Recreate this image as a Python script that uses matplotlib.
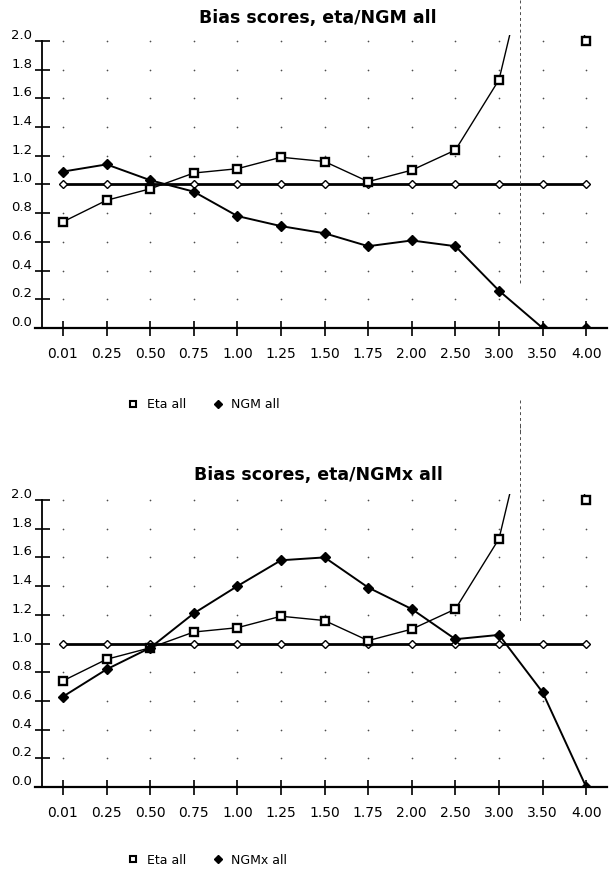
import numpy as np
import matplotlib
matplotlib.use("Agg")
import matplotlib.pyplot as plt
from matplotlib.lines import Line2D
from matplotlib.transforms import ScaledTranslation

# ---------------- data ----------------
categories = ["0.01", "0.25", "0.50", "0.75", "1.00", "1.25", "1.50",
              "1.75", "2.00", "2.50", "3.00", "3.50", "4.00"]
eta_all = [0.74, 0.89, 0.97, 1.08, 1.11, 1.19, 1.16, 1.02, 1.10, 1.24, 1.73, 3.00, 2.00]
ngm_all = [1.09, 1.14, 1.03, 0.95, 0.78, 0.71, 0.66, 0.57, 0.61, 0.57, 0.26, 0.00, 0.00]
ngmx_all = [0.63, 0.82, 0.97, 1.21, 1.40, 1.58, 1.60, 1.39, 1.24, 1.03, 1.06, 0.66, 0.00]
reference = [1.0, 1.0, 1.0, 1.0, 1.0, 1.0, 1.0, 1.0, 1.0, 1.0, 1.0, 1.0, 1.0]
yticks = [0.0, 0.2, 0.4, 0.6, 0.8, 1.0, 1.2, 1.4, 1.6, 1.8, 2.0]

titles = ["Bias scores, eta/NGM all", "Bias scores, eta/NGMx all"]
series_labels = [("Eta all", "NGM all"), ("Eta all", "NGMx all")]
second_series = [ngm_all, ngmx_all]

# ---------------- layout ----------------
W, H = 611, 872
DPI = 100
fig = plt.figure(figsize=(W / DPI, H / DPI), dpi=DPI)
plt.rcParams['font.family'] = ['DejaVu Sans']

x = np.arange(len(categories))
spacing = 43.6
x0_px = 63
left_px, right_px = 35, 607
xlim = ((left_px - x0_px) / spacing, (right_px - x0_px) / spacing)
yspine = (42 - x0_px) / spacing

panels = [  # (px of y=0, px of y=2.0, title y px, legend y px)
    (328, 41, 18, 405),
    (787, 500, 475, 860),
]
ytop = 2.04

for i, (y0px, y2px, ty, legy) in enumerate(panels):
    ppu = (y0px - y2px) / 2.0
    top_px = y2px - (ytop - 2.0) * ppu
    ax = fig.add_axes([left_px / W, (H - y0px) / H,
                       (right_px - left_px) / W, (y0px - top_px) / H])
    ax.set_xlim(*xlim)
    ax.set_ylim(0, ytop)

    for s in ("top", "right"):
        ax.spines[s].set_visible(False)
    ax.spines["left"].set_position(("data", yspine))
    ax.spines["left"].set_bounds(0, 2.0)
    ax.spines["left"].set_linewidth(1.3)
    ax.spines["bottom"].set_linewidth(1.6)

    # grid dots
    gx, gy = np.meshgrid(x, yticks[1:])
    ax.scatter(gx.ravel(), gy.ravel(), s=1.5, color="0.3", lw=0, zorder=1)

    # reference line
    ax.plot(x, reference, color="black", lw=2.0, marker="D", ms=4.2,
            mfc="white", mec="black", mew=1.0, zorder=3)
    # eta
    ax.plot(x, eta_all, color="black", lw=1.0, marker="s", ms=5.6,
            mfc="white", mec="black", mew=1.7, zorder=4)
    # second series
    ax.plot(x, second_series[i], color="black", lw=1.4, marker="D",
            ms=5.0, mfc="black", mec="black", zorder=5)

    ax.set_xticks(x)
    ax.set_xticklabels(categories, fontsize=10)
    ax.set_yticks(yticks)
    ax.set_yticklabels([f"{v:.1f}" for v in yticks], fontsize=9.5)
    ax.tick_params(axis="x", direction="inout", length=10.8, width=1.2, pad=8)
    ax.tick_params(axis="y", direction="inout", length=10.8, width=1.2, pad=1.5)
    off = ScaledTranslation(0, 7 / DPI, fig.dpi_scale_trans)
    for lab in ax.get_yticklabels():
        lab.set_transform(lab.get_transform() + off)

    # title
    fig.text(318 / W, 1 - ty / H, titles[i], ha="center", va="center",
             fontsize=12.5, fontweight="bold")

    # legend
    h1 = Line2D([], [], ls="none", marker="s", ms=4.5, mfc="white", mec="black", mew=1.5)
    h2 = Line2D([], [], ls="none", marker="D", ms=4.5, mfc="black", mec="black")
    fig.legend([h1, h2], list(series_labels[i]), loc="center left",
               bbox_to_anchor=(127 / W, 1 - legy / H), ncol=2, frameon=False,
               fontsize=9, handlelength=1.0, handletextpad=0.6,
               columnspacing=2.0, borderpad=0, borderaxespad=0)

# scan fold artifact (faint dashed vertical line)
for (ya, yb) in [(0, 285), (400, 432), (425, 622)]:
    fig.add_artist(Line2D([520 / W, 520 / W], [1 - ya / H, 1 - yb / H],
                          transform=fig.transFigure, color="0.3", lw=0.7,
                          ls=(0, (3, 3))))

fig.savefig("out.png", dpi=DPI)
